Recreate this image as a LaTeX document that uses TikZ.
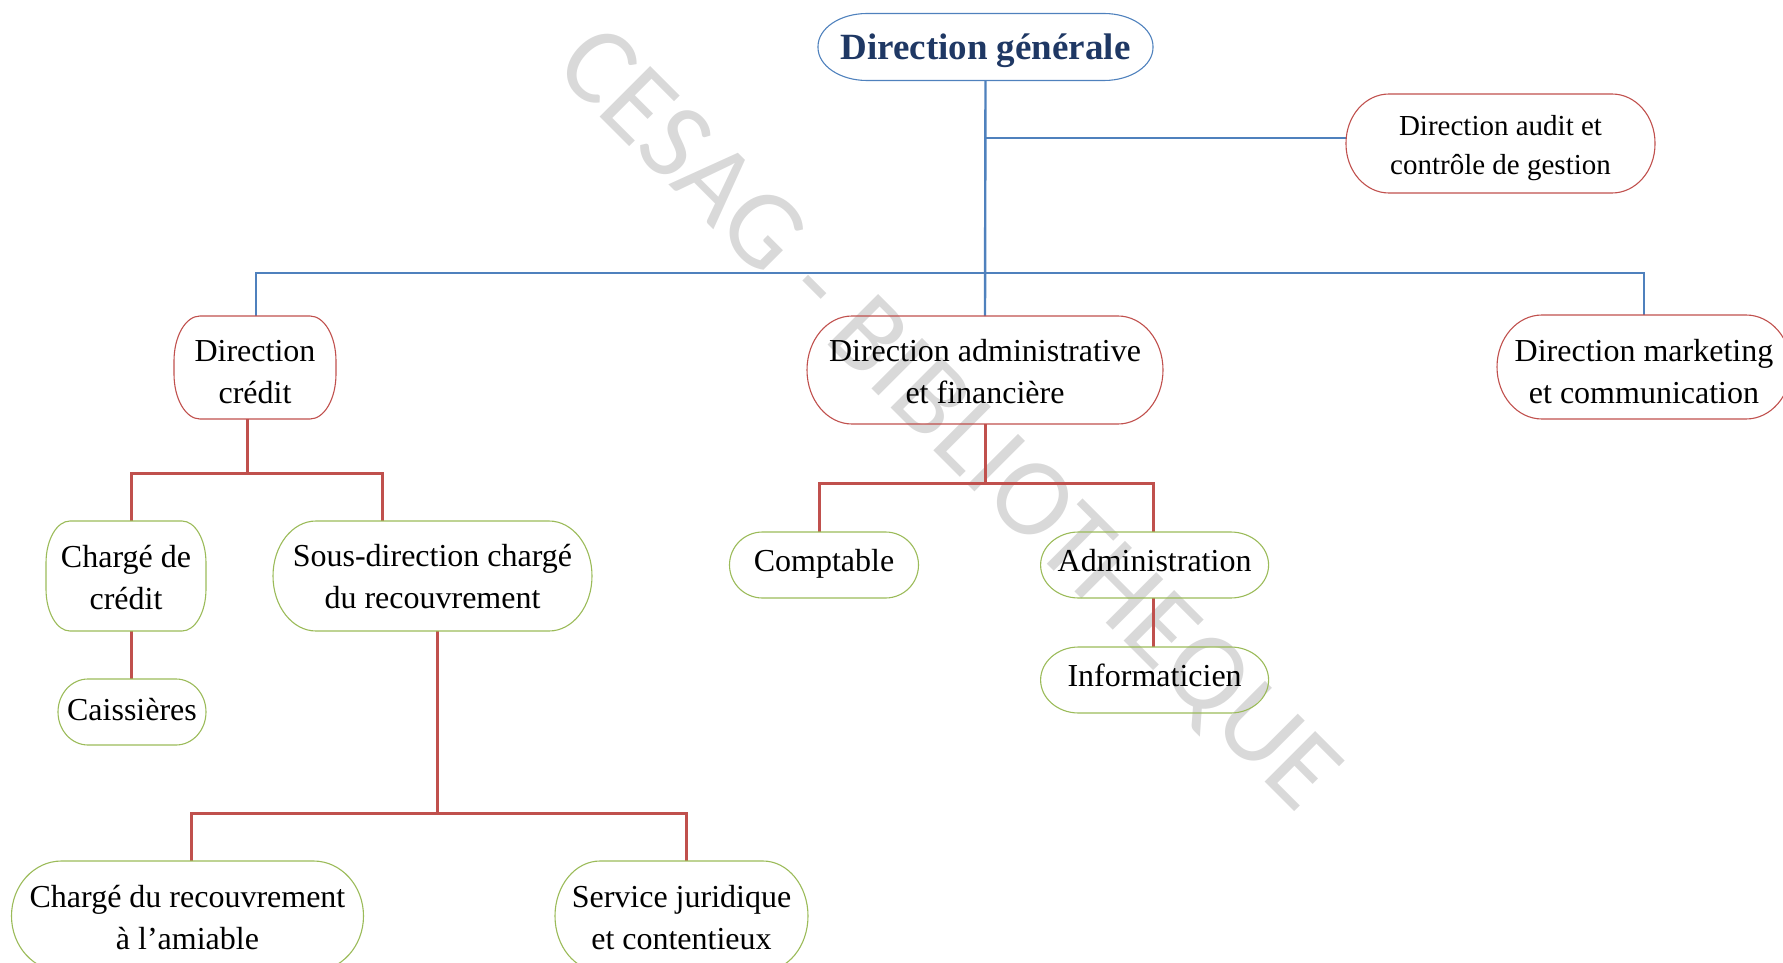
\documentclass[tikz,border=0pt]{standalone}
\usepackage{fontspec}
\setmainfont{Liberation Serif}
\newfontfamily\wmfont{Carlito}
\usetikzlibrary{calc}
\definecolor{obl}{HTML}{4F81BD}
\definecolor{ored}{HTML}{C0504D}
\definecolor{ogrn}{HTML}{9BBB59}
\definecolor{navy}{HTML}{1F3864}
\definecolor{wmgray}{HTML}{D9D9D9}
\newcommand\obox[4]{%
  \draw[#4] ([xshift=#2]#1.north west) -- ([xshift=-#2]#1.north east)
    arc[start angle=90,end angle=0,x radius=#2,y radius=#3]
    -- ([yshift=#3]#1.south east)
    arc[start angle=0,end angle=-90,x radius=#2,y radius=#3]
    -- ([xshift=#2]#1.south west)
    arc[start angle=270,end angle=180,x radius=#2,y radius=#3]
    -- ([yshift=-#3]#1.north west)
    arc[start angle=180,end angle=90,x radius=#2,y radius=#3]
    -- cycle;}
\begin{document}
\begin{tikzpicture}[x=1pt,y=-1pt,
  bx/.style={inner sep=0pt, outer sep=0pt, align=center, font=\fontsize{32}{42}\selectfont, text depth=0pt},
  sz/.style 2 args={minimum width=#1pt, minimum height=#2pt},
  th/.style={text height=#1pt},
  lineblue/.style={draw=obl, line width=2.4pt},
  linered/.style={draw=ored, line width=3pt},
  boxred/.style={draw=ored, line width=1.1pt},
  boxgreen/.style={draw=ogrn, line width=1.1pt},
  boxblue/.style={draw=obl, line width=1.1pt}]
\useasboundingbox (0,0) rectangle (1783,963);
% watermark
\node (wm) [rotate=-45, text=wmgray, font=\wmfont\fontsize{111.5}{111.5}\selectfont] at (946,422) {CESAG - BIBLIOTHEQUE};
% nodes
\node (dg) [bx, sz={335}{67}, th=25, font=\fontsize{37}{44}\selectfont\bfseries, text=navy] at (985.5,47) {Direction générale};
\node (audit) [bx, sz={309}{99}, th=62, font=\fontsize{29}{39}\selectfont] at (1500.5,143.5) {Direction audit et\\contrôle de gestion};
\node (mkt) [bx, sz={294}{104}, th=72] at (1644,367) {Direction marketing\\et communication};
\node (dc) [bx, sz={162}{103}, th=71] at (255,367.5) {Direction\\crédit};
\node (daf) [bx, sz={356}{108}, th=67.5] at (985,370) {Direction administrative\\et financière};
\node (ccred) [bx, sz={160}{110}, th=66] at (126,576) {Chargé de\\crédit};
\node (sousdir) [bx, sz={319}{110}, th=65.5] at (432.5,576) {Sous-direction chargé\\du recouvrement};
\node (caiss) [bx, sz={148}{66}, th=16] at (132,712) {Caissières};
\node (compt) [bx, sz={189}{66}, th=13] at (824,565) {Comptable};
\node (admin) [bx, sz={228}{66}, th=13] at (1154.6,565) {Administration};
\node (info) [bx, sz={228}{66}, th=13] at (1154.6,680) {Informaticien};
\node (crecouv) [bx, sz={352}{110}, th=67] at (187.5,916) {Chargé du recouvrement\\à l’amiable};
\node (servjur) [bx, sz={253}{110}, th=67] at (681.5,916) {Service juridique\\et contentieux};
% junctions
\coordinate (j1) at (985,138);
\coordinate (bus) at (985,273);
\coordinate (r1) at (247,473);
\coordinate (r2) at (985,483);
\coordinate (r3) at (437,813);
% blue connectors
\draw[lineblue] (dg.south) -- (daf.north);
\draw[lineblue] (j1) -- (j1 -| audit.west);
\draw[lineblue] ([xshift=1pt]dc.north) |- (bus) -| (mkt.north);
% red connectors
\draw[linered] ([xshift=-8pt]dc.south) -- (r1);
\draw[linered] ([xshift=5pt]ccred.north) |- (r1) -| ([xshift=-50.5pt]sousdir.north);
\draw[linered] ([xshift=5pt]ccred.south) -- ([xshift=5pt]ccred.south |- caiss.north);
\draw[linered] ([xshift=4.5pt]sousdir.south) -- (r3);
\draw[linered] ([xshift=3.5pt]crecouv.north) |- (r3) -| ([xshift=5pt]servjur.north);
\draw[linered] (daf.south) -- (r2);
\draw[linered] ([xshift=-5pt]compt.north) |- (r2) -| ([xshift=-1.6pt]admin.north);
\draw[linered] ([xshift=-1.6pt]admin.south) -- ([xshift=-1.6pt]info.north);
% outlines
\obox{dg}{49pt}{33pt}{boxblue}
\obox{audit}{43pt}{49pt}{boxred}
\obox{mkt}{45pt}{52pt}{boxred}
\obox{dc}{26pt}{45pt}{boxred}
\obox{daf}{45pt}{54pt}{boxred}
\obox{ccred}{24pt}{42pt}{boxgreen}
\obox{sousdir}{43pt}{55pt}{boxgreen}
\obox{caiss}{30pt}{33pt}{boxgreen}
\obox{compt}{33pt}{33pt}{boxgreen}
\obox{admin}{38pt}{33pt}{boxgreen}
\obox{info}{38pt}{33pt}{boxgreen}
\obox{crecouv}{50pt}{55pt}{boxgreen}
\obox{servjur}{45pt}{55pt}{boxgreen}
\end{tikzpicture}
\end{document}
